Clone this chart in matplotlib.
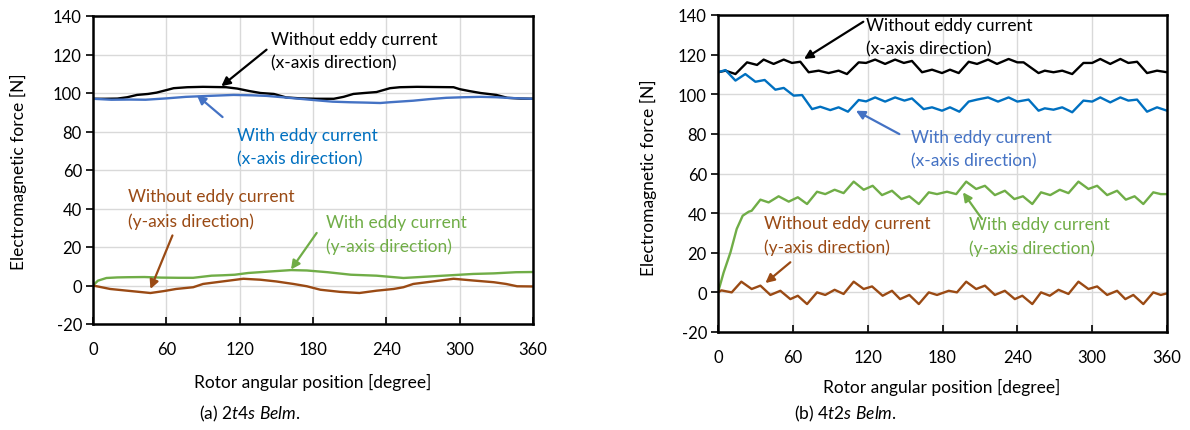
import matplotlib
matplotlib.use("Agg")
import matplotlib.pyplot as plt

plt.rcParams['font.family'] = ['Lato', 'DejaVu Sans']
plt.rcParams['mathtext.fontset'] = 'custom'
plt.rcParams['mathtext.rm'] = 'Lato'
plt.rcParams['mathtext.it'] = 'Lato:italic'
plt.rcParams['axes.unicode_minus'] = False

# ---------------- data: panel (a) 2t4s Belm ----------------
a_black_deg = [0, 10, 20, 28, 36, 45, 52, 60, 66, 77, 90, 100, 109, 118, 128, 137, 148, 158, 170, 183,
               197, 205, 213, 222, 232, 243, 251, 265, 280, 295, 300, 308, 317, 330, 339, 350, 360]
a_black_val = [97, 97, 97.1, 97.8, 99, 99.5, 100.2, 101.5, 102.5, 103, 103.2, 103.1, 103, 102.3, 101, 100, 99.5, 97.7, 97.2, 97,
               97, 98, 99.5, 100, 100.5, 102.5, 103, 103.2, 103.1, 103, 102, 101, 100, 99, 97.5, 97.1, 97]

a_blue_deg = [0, 15, 30, 43, 60, 76, 95, 115, 130, 142, 155, 169, 183, 196, 210, 224, 235, 243,
              262, 275, 289, 303, 317, 330, 338, 350, 360]
a_blue_val = [97, 96.5, 96.6, 96.5, 97.2, 98, 98.5, 99, 98.8, 98.5, 97.8, 97, 96.2, 95.5, 95.2, 95, 94.8, 95.2,
              96, 96.8, 97.5, 97.8, 98, 97.8, 97.5, 97.2, 97]

a_green_deg = [0, 4, 11, 20, 28, 42, 56, 70, 82, 97, 106, 116, 127, 143, 162, 175, 192, 211, 232, 254,
               273, 295, 311, 328, 346, 360]
a_green_val = [0, 2.5, 3.9, 4.2, 4.3, 4.4, 4.1, 4.0, 4.0, 5.1, 5.3, 5.6, 6.5, 7.2, 8.0, 7.8, 6.9, 5.6, 5.1, 3.9,
               4.6, 5.4, 6.0, 6.3, 6.9, 7.0]

a_brown_deg = [0, 14, 28, 47, 58, 68, 82, 90, 101, 112, 123, 137, 150, 164, 175, 186, 202, 218, 232, 246,
               254, 262, 278, 295, 311, 328, 338, 347, 360]
a_brown_val = [0, -1.8, -2.7, -3.9, -2.9, -1.8, -0.9, 0.8, 1.7, 2.6, 3.5, 3.0, 2.1, 0.8, -0.4, -2.2, -3.3, -3.9, -2.7, -1.8,
               -0.9, 0.8, 2.1, 3.5, 2.6, 1.7, 0.8, -0.4, -0.5]

# ---------------- data: panel (b) 4t2s Belm ----------------
b_black_deg = [0, 6, 14, 23.3, 31.3, 36.6, 44.6, 52.7, 59.3, 66, 72.7, 80.7, 88.7, 96.7, 103.4, 112.8, 118.7,
               126, 134, 142, 149, 155.5, 163.6, 171.6, 179.6, 186, 193, 201, 207.7, 216.5, 223.7, 233, 240,
               245, 257, 262, 269, 276, 284, 293, 300, 306.5, 314.5, 322.6, 329, 336, 344, 352, 360]
b_black_val = [111.1, 111.9, 110.2, 116.1, 114.8, 117.5, 115.3, 117.5, 115.8, 116.4, 111.1, 111.9, 110.7, 111.9, 110.2, 116.1, 115.8,
               117.5, 115.3, 117.5, 115.8, 116.8, 111.1, 112.4, 110.7, 112.4, 110.7, 116.4, 115.3, 117.5, 115.3, 117.8, 116.1,
               116.1, 110.7, 111.9, 111.1, 111.9, 110.2, 115.8, 115.8, 117.8, 115.3, 117.8, 115.8, 116.4, 110.7, 111.9, 111.1]

b_blue_deg = [0, 6, 14, 21.9, 30, 37.4, 46, 52.7, 60.7, 67.4, 75.4, 82, 90, 96.7, 104.2, 112.8, 118.7,
              126, 134, 142, 149.5, 155.5, 164.9, 171.6, 179.6, 186, 193.5, 201, 207.7, 216.5, 224.5, 233, 240,
              249, 257, 262, 269, 276, 284, 293, 300, 306.5, 314.5, 322.6, 329, 336, 344, 352, 360]
b_blue_val = [111.1, 112.2, 106.9, 110.2, 106.3, 107.2, 102.3, 103.2, 99.3, 99.6, 92.5, 93.7, 92, 93.4, 91.2, 97.1, 96.4,
              98.4, 96.3, 98.4, 96.8, 97.9, 92.5, 93.4, 91.7, 93.4, 91.2, 96.3, 97.3, 98.4, 96.3, 98.4, 96.3,
              97.3, 91.7, 92.9, 92.2, 93.4, 90.9, 96.8, 96.3, 98.4, 95.9, 98.4, 96.8, 97.3, 91.2, 93.4, 91.7]

b_green_deg = [0, 4.5, 10, 15, 19.8, 24.6, 27, 34, 40.6, 48.6, 56.7, 64, 71.4, 79.4, 86, 93.5, 100.7, 108.8,
               116.8, 124, 131.5, 139.5, 147, 153.4, 161, 169, 175.6, 183.6, 191, 199, 207, 214, 222, 230,
               237.6, 244.5, 252, 259, 266.4, 274, 281, 289, 297, 304, 312, 320, 327, 334, 341, 349, 355, 360]
b_green_val = [0, 10, 20.2, 32, 38.7, 40.7, 41.2, 46.8, 45.4, 48.5, 45.8, 48, 44.6, 50.8, 49.6, 51.8, 50.1, 55.9,
               51.8, 53.8, 49.1, 51.3, 47.1, 48.5, 44.6, 50.5, 49.6, 50.8, 49.6, 55.9, 52.2, 53.8, 49.1, 51.3,
               47.1, 48.5, 44.6, 50.5, 49.1, 51.8, 50.1, 55.9, 52.2, 53.8, 49.1, 51.3, 46.8, 48.5, 44.6, 50.5, 49.6, 49.6]

b_brown_deg = [0, 2.7, 11, 18.7, 27, 34, 42, 50, 58, 64, 71.4, 79.4, 86, 93.5, 100.7, 108.8, 116.8, 123.5,
               132, 139.5, 146, 153.4, 161, 169, 175.6, 185, 191.6, 199, 207, 214, 222, 230, 238, 244,
               252, 259, 266, 273, 281, 289, 297, 304, 312, 320, 326.6, 333, 341, 349, 355, 360]
b_brown_val = [0, 1, 0, 5.4, 1.7, 3.4, -1.3, 0.8, -3.4, -1.7, -5.9, 0, -1.3, 1.3, -0.8, 5.4, 1.7, 3,
               -1.7, 0.8, -3.4, -1.3, -5.9, 0, -1.3, 0.8, 0, 5.4, 1.7, 3.4, -1.3, 0.8, -3.4, -1.7,
               -5.9, 0, -1.7, 1.3, -0.8, 5.4, 1.7, 3, -1.3, 0.8, -3.4, -1.3, -5.9, 0, -1.3, -0.5]

x_ticks = [0, 60, 120, 180, 240, 300, 360]
y_ticks = [-20, 0, 20, 40, 60, 80, 100, 120, 140]

C_BLACK = '#000000'
C_BLUE = '#0070C0'
C_BLUE_A = '#4472C4'
C_BLUE_TXT = '#4472C4'
C_GREEN = '#70AD47'
C_BROWN = '#9A4A14'

W, H = 1190, 431
fig = plt.figure(figsize=(W / 100, H / 100), dpi=100)


def px_axes(x0, y0, x1, y1):
    return fig.add_axes([x0 / W, 1 - y1 / H, (x1 - x0) / W, (y1 - y0) / H])


def style(ax):
    ax.set_xlim(0, 360)
    ax.set_ylim(-20, 140)
    ax.set_xticks(x_ticks)
    ax.set_yticks(y_ticks)
    ax.grid(True, color='#d9d9d9', lw=1.0)
    ax.set_axisbelow(True)
    for s in ax.spines.values():
        s.set_linewidth(1.8)
        s.set_color('black')
    ax.tick_params(axis='x', direction='in', length=5, width=1.2, labelsize=12, pad=12)
    ax.tick_params(axis='y', direction='out', length=5, width=1.2, labelsize=12, pad=3)


def label(ax, x, y, s, color):
    ax.text(x, y, s, color=color, fontsize=12.5, ha='left', va='center', linespacing=1.55)


def arrow(ax, head, tail, color):
    ax.annotate('', xy=head, xytext=tail,
                arrowprops=dict(arrowstyle='-|>', color=color, lw=1.6, mutation_scale=13,
                                shrinkA=0, shrinkB=0))


LW = 1.7
KW = dict(lw=LW, solid_joinstyle='round', solid_capstyle='round')
# ---------- panel (a) ----------
axa = px_axes(93, 17, 533, 325)
style(axa)
axa.plot(a_black_deg, a_black_val, color=C_BLACK, **KW)
axa.plot(a_blue_deg, a_blue_val, color=C_BLUE_A, **KW)
axa.plot(a_green_deg, a_green_val, color=C_GREEN, **KW)
axa.plot(a_brown_deg, a_brown_val, color=C_BROWN, **KW)

label(axa, 146, 122, 'Without eddy current\n(x-axis direction)', C_BLACK)
arrow(axa, (105, 103.5), (142, 122.5), C_BLACK)
label(axa, 118, 72, 'With eddy current\n(x-axis direction)', C_BLUE)
arrow(axa, (85, 98.8), (106, 87.5), C_BLUE_TXT)
label(axa, 29, 40, 'Without eddy current\n(y-axis direction)', C_BROWN)
arrow(axa, (47, -1.8), (65, 26), C_BROWN)
label(axa, 191, 26.5, 'With eddy current\n(y-axis direction)', C_GREEN)
arrow(axa, (162, 8.3), (183, 27.3), C_GREEN)

# ---------- panel (b) ----------
axb = px_axes(718, 16, 1167, 333)
style(axb)
axb.plot(b_black_deg, b_black_val, color=C_BLACK, **KW)
axb.plot(b_blue_deg, b_blue_val, color=C_BLUE, **KW)
axb.plot(b_green_deg, b_green_val, color=C_GREEN, **KW)
axb.plot(b_brown_deg, b_brown_val, color=C_BROWN, **KW)

label(axb, 118.5, 129, 'Without eddy current\n(x-axis direction)', C_BLACK)
arrow(axb, (69, 117.8), (116.5, 136.6), C_BLACK)
label(axb, 154.5, 72.5, 'With eddy current\n(x-axis direction)', C_BLUE_TXT)
arrow(axb, (110.6, 91.7), (145.4, 79.9), C_BLUE_TXT)
label(axb, 36.6, 29, 'Without eddy current\n(y-axis direction)', C_BROWN)
arrow(axb, (38, 4.7), (58, 15.2), C_BROWN)
label(axb, 201, 28.5, 'With eddy current\n(y-axis direction)', C_GREEN)
arrow(axb, (196.4, 50.5), (211.7, 37), C_GREEN)

# ---------- axis titles and captions ----------
fs = 12.5
fig.text(18 / W, 1 - 172 / H, 'Electromagnetic force [N]', rotation=90, ha='center', va='center', fontsize=fs)
fig.text(648 / W, 1 - 178 / H, 'Electromagnetic force [N]', rotation=90, ha='center', va='center', fontsize=fs)
fig.text(313 / W, 1 - 382 / H, 'Rotor angular position [degree]', ha='center', va='center', fontsize=fs)
fig.text(942 / W, 1 - 387 / H, 'Rotor angular position [degree]', ha='center', va='center', fontsize=fs)
fig.text(250 / W, 1 - 414 / H, r'(a) 2$\mathit{t}$4$\mathit{s\ Belm}$.', ha='center', va='center', fontsize=fs)
fig.text(845 / W, 1 - 414 / H, r'(b) 4$\mathit{t}$2$\mathit{s\ Belm}$.', ha='center', va='center', fontsize=fs)

fig.savefig('out.png', dpi=100)
